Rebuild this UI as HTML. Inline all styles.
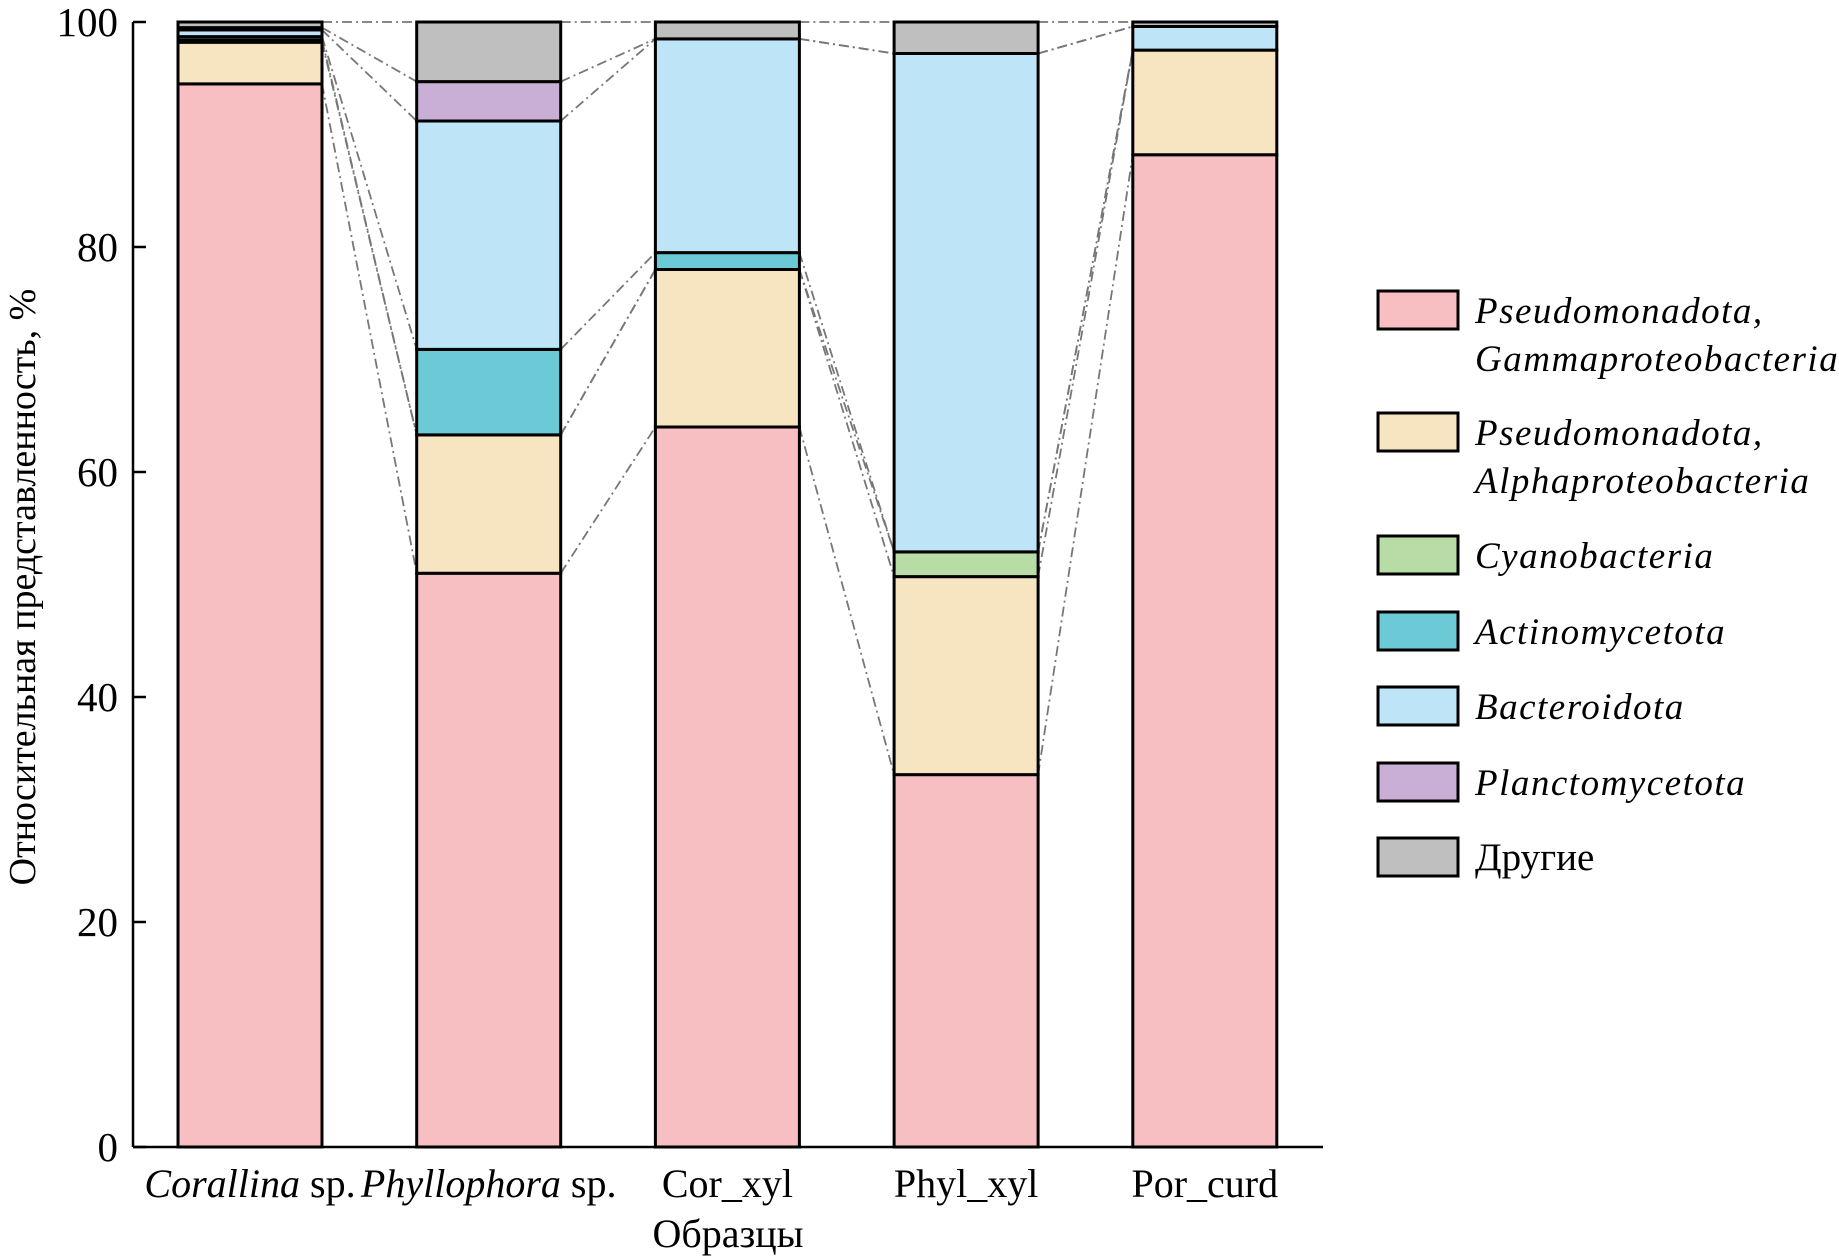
<!DOCTYPE html>
<html><head><meta charset="utf-8"><style>
html,body{margin:0;padding:0;background:#fff;}
svg{display:block;font-family:"Liberation Serif",serif;}
</style></head><body>
<svg id="chart" width="1839" height="1257" viewBox="0 0 1839 1257" xmlns="http://www.w3.org/2000/svg">
<g id="connectors"></g>
<g id="bars"></g>
<g id="axes"></g>
<text transform="translate(35,587) rotate(-90)" text-anchor="middle" font-size="38">Относительная представленность, %</text>
<text x="728" y="1247" text-anchor="middle" font-size="40">Образцы</text>
<g id="legend"></g>
</svg>
<script>
const categories = ["Corallina sp.", "Phyllophora sp.", "Cor_xyl", "Phyl_xyl", "Por_curd"];
const seriesNames = ["Pseudomonadota, Gammaproteobacteria", "Pseudomonadota, Alphaproteobacteria", "Cyanobacteria", "Actinomycetota", "Bacteroidota", "Planctomycetota", "Другие"];
const gamma   = [94.5, 51.0, 64.0, 33.1, 88.2];
const alpha   = [3.7, 12.3, 14.0, 17.6, 9.3];
const cyano   = [0.2, 0.0, 0.0, 2.2, 0.0];
const actino  = [0.3, 7.6, 1.5, 0.0, 0.0];
const bactero = [0.6, 20.3, 19.0, 44.3, 2.1];
const plancto = [0.2, 3.5, 0.0, 0.0, 0.0];
const others  = [0.5, 5.3, 1.5, 2.8, 0.4];
const yTicks = [0, 20, 40, 60, 80, 100];

const series = [gamma, alpha, cyano, actino, bactero, plancto, others];
const colors = ["#f7bfc1", "#f7e5c1", "#b7dca5", "#6ccad7", "#bde4f7", "#c9afd6", "#bfbfbf"];
const NS = "http://www.w3.org/2000/svg";
const X0 = 133, X1 = 1323, Y0 = 1147, Y100 = 22;
const y = v => Y0 - (Y0 - Y100) * v / 100;
const barW = 144;
const xLeft = i => 178 + i * 238.7;
function mk(tag, attrs, parent) { const e = document.createElementNS(NS, tag); for (const k in attrs) e.setAttribute(k, attrs[k]); parent.appendChild(e); return e; }

const barsG = document.getElementById('bars');
const connG = document.getElementById('connectors');
const cum = categories.map((c, i) => { let s = 0; return [0].concat(series.map(ser => (s += ser[i]))); });

categories.forEach((c, i) => {
  series.forEach((ser, k) => {
    const v = ser[i];
    if (v <= 0) return;
    const r = mk('rect', {x: xLeft(i), y: y(cum[i][k + 1]), width: barW, height: y(cum[i][k]) - y(cum[i][k + 1]), fill: colors[k], stroke: '#000', 'stroke-width': 3}, barsG);
    
    
  });
});
for (let i = 0; i < categories.length - 1; i++) {
  for (let k = 1; k <= series.length; k++) {
    const l = mk('line', {x1: xLeft(i) + barW, y1: y(cum[i][k]), x2: xLeft(i + 1), y2: y(cum[i + 1][k]), stroke: '#777', 'stroke-width': 1.8, 'stroke-dasharray': '10 4 2 4'}, connG);
    
    
  }
}
const ax = document.getElementById('axes');
const yl = mk('line', {x1: X0, y1: Y100, x2: X0, y2: Y0, stroke: '#000', 'stroke-width': 2.5}, ax);


const xl = mk('line', {x1: X0, y1: Y0, x2: X1, y2: Y0, stroke: '#000', 'stroke-width': 2.5}, ax);


yTicks.forEach(t => {
  const tl = mk('line', {x1: X0, y1: y(t), x2: X0 + 13, y2: y(t), stroke: '#000', 'stroke-width': 2.5}, ax);
  
  
  const tx = mk('text', {x: 118, y: y(t) + 14, 'text-anchor': 'end', 'font-size': 41}, ax);
  tx.textContent = t;
  
  
});
categories.forEach((c, i) => {
  const tx = mk('text', {x: xLeft(i) + barW / 2, y: 1197, 'text-anchor': 'middle', 'font-size': 40}, ax);
  
  
  const m = c.match(/^(\S+) (sp\.)$/);
  if (m) {
    const a = mk('tspan', {'font-style': 'italic'}, tx); a.textContent = m[1];
    const b = mk('tspan', {}, tx); b.textContent = ' ' + m[2];
  } else tx.textContent = c;
});
const lg = document.getElementById('legend');
const rowY = [310, 432, 555, 631, 706, 782, 857];
seriesNames.forEach((n, k) => {
  const g = mk('g', {}, lg);
  
  
  mk('rect', {x: 1378, y: rowY[k] - 19, width: 80, height: 38, fill: colors[k], stroke: '#000', 'stroke-width': 3}, g);
  const parts = n.split(', ');
  const italic = k < 6;
  parts.forEach((p, j) => {
    const t = mk('text', {x: 1475, y: rowY[k] + 13 + j * 48, 'font-size': italic ? 37 : 39, 'font-style': italic ? 'italic' : 'normal', 'letter-spacing': italic ? 1.5 : 0}, g);
    t.textContent = p + (j < parts.length - 1 ? ',' : '');
  });
});
</script>
</body></html>
